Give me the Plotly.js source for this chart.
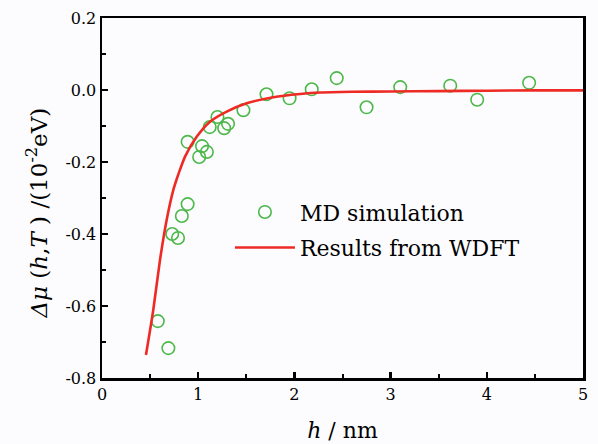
<!DOCTYPE html>
<html>
<head>
<meta charset="utf-8">
<script src="https://cdn.plot.ly/plotly-3.0.1.min.js"></script>
<style>html,body{margin:0;padding:0;background:#fcfcfe;}#chart{width:598px;height:444px;}</style>
</head>
<body>
<div id="chart"></div>
<script>
// MD simulation points
const mdH = [0.58, 0.69, 0.73, 0.79, 0.83, 0.89, 0.89, 1.01, 1.04, 1.09, 1.12, 1.20, 1.27, 1.31, 1.47, 1.71, 1.95, 2.18, 2.44, 2.75, 3.10, 3.62, 3.90, 4.44];
const mdMu = [-0.642, -0.717, -0.400, -0.411, -0.350, -0.317, -0.144, -0.186, -0.156, -0.172, -0.103, -0.075, -0.106, -0.094, -0.056, -0.012, -0.023, 0.002, 0.033, -0.048, 0.008, 0.012, -0.027, 0.020];
// WDFT curve
const wdftH = [0.457, 0.533, 0.603, 0.672, 0.741, 0.776, 0.81, 0.863, 0.984, 1.123, 1.296, 1.504, 1.78, 2.06, 2.27, 2.6, 3.0, 3.5, 4.0, 4.5, 5.0];
const wdftMu = [-0.736, -0.611, -0.472, -0.361, -0.278, -0.248, -0.222, -0.185, -0.130, -0.088, -0.060, -0.037, -0.020, -0.011, -0.007, -0.005, -0.004, -0.003, -0.002, -0.001, -0.001];
const xTicks = [0, 1, 2, 3, 4, 5];
const yTicks = [-0.8, -0.6, -0.4, -0.2, 0.0, 0.2];

const serif = "DejaVu Serif";
const traces = [
  {x: mdH, y: mdMu, mode: 'markers', type: 'scatter', name: 'MD simulation', legendgroup: 'a',
   marker: {symbol: 'circle-open', size: 12.5, color: '#4db84a', line: {width: 1.6, color: '#4db84a'}}},
  {x: wdftH, y: wdftMu, mode: 'lines', type: 'scatter', name: 'Results from WDFT', legendgroup: 'b',
   line: {color: '#ee2a24', width: 2.6, shape: 'spline', smoothing: 0.6}}
];
const axisCommon = {
  showline: true, linecolor: '#000', linewidth: 2.5, mirror: true,
  ticks: 'inside', ticklen: 6, tickwidth: 2.5, tickcolor: '#000',
  showgrid: false, zeroline: false,
  tickfont: {family: serif, size: 16, color: '#000'}
};
const layout = {
  width: 598, height: 444,
  margin: {l: 102, r: 15, t: 18, b: 66},
  paper_bgcolor: '#fcfcfe', plot_bgcolor: '#fcfcfe',
  font: {family: serif, color: '#000'},
  showlegend: true,
  legend: {x: 0.266, y: 0.519, xanchor: 'left', yanchor: 'top', bgcolor: 'rgba(0,0,0,0)', itemwidth: 60,
           font: {family: serif, size: 22, color: '#000'}, traceorder: 'grouped', tracegroupgap: 4},
  xaxis: Object.assign({}, axisCommon, {
    range: [0, 5], tickvals: xTicks, ticktext: xTicks.map(String),
    minor: {dtick: 0.5, ticks: 'inside', ticklen: 4, tickwidth: 2, tickcolor: '#000'},
    title: {text: '<i>h</i> / nm', font: {family: serif, size: 22}, standoff: 20}
  }),
  yaxis: Object.assign({}, axisCommon, {
    range: [-0.8, 0.2], tickvals: yTicks, ticktext: yTicks.map(v => v.toFixed(1)),
    minor: {dtick: 0.1, ticks: 'inside', ticklen: 4, tickwidth: 2, tickcolor: '#000'},
    title: {text: '<i>Δμ</i> (<i>h</i>,<i>T</i> ) /(10<sup>-2</sup>eV)&nbsp;&nbsp;&nbsp;&nbsp;', font: {family: serif, size: 23}, standoff: 12}
  })
};
Plotly.newPlot('chart', traces, layout, {displayModeBar: false, staticPlot: true});
</script>
</body>
</html>
